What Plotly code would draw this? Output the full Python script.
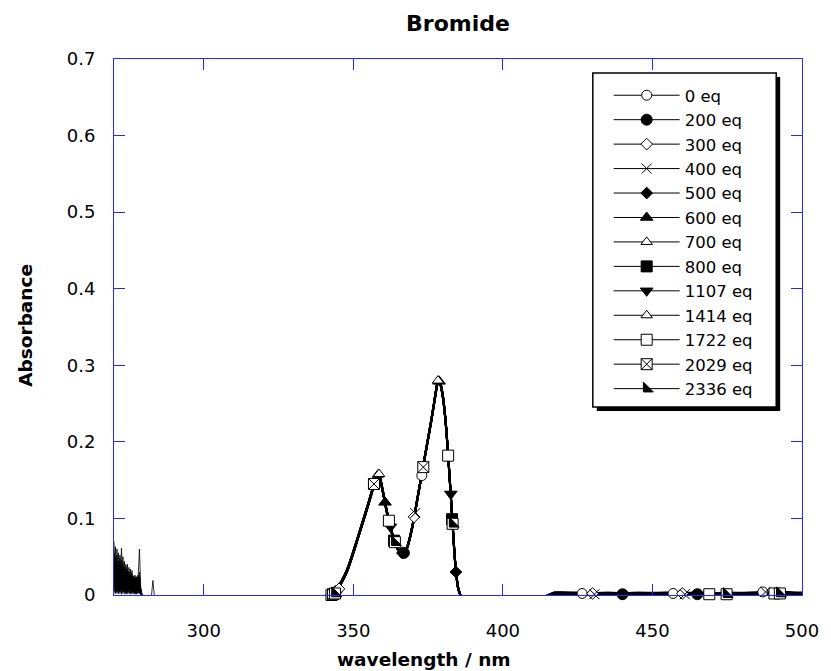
import plotly.graph_objects as go

# ---------------- data ----------------
SERIES = ["0 eq", "200 eq", "300 eq", "400 eq", "500 eq", "600 eq", "700 eq",
          "800 eq", "1107 eq", "1414 eq", "1722 eq", "2029 eq", "2336 eq"]

NOISE_WL = [270.0, 270.5, 271.0, 271.5, 272.0, 272.5, 273.0, 273.5, 274.0, 274.5,
            275.0, 275.5, 276.0, 276.5, 277.0, 277.5, 278.0, 278.5, 279.0, 279.5,
            280.0, 280.5, 282.5, 283.0, 283.5]

N_0 = [0.012, 0.063, 0.008, 0.030, 0.004, 0.022, 0.035, 0.006, 0.018, 0.002, 0.025, 0.010, 0.004, 0.015, 0.001, 0.020, 0.003, 0.010, 0.000, -0.002, -0.002, -0.002, -0.002, 0.019, -0.002]
N_200 = [0.030, 0.005, 0.041, 0.012, 0.028, 0.003, 0.020, 0.028, 0.001, 0.032, 0.006, 0.017, 0.024, 0.002, 0.012, 0.004, 0.015, 0.060, 0.003, -0.002, -0.002, -0.002, -0.002, -0.002, -0.002]
N_300 = [0.045, 0.020, 0.002, 0.055, 0.015, 0.038, 0.004, 0.026, 0.012, 0.040, 0.003, 0.022, 0.008, 0.025, 0.006, 0.002, 0.018, 0.012, 0.003, -0.002, -0.002, -0.002, -0.002, -0.002, -0.002]
N_400 = [0.008, 0.035, 0.018, 0.003, 0.048, 0.010, 0.030, 0.002, 0.036, 0.014, 0.020, 0.001, 0.028, 0.009, 0.018, 0.011, 0.002, 0.016, 0.005, -0.002, -0.002, -0.002, -0.002, -0.002, -0.002]
N_500 = [0.050, 0.002, 0.026, 0.040, 0.006, 0.061, 0.012, 0.034, 0.004, 0.022, 0.030, 0.003, 0.014, 0.020, 0.002, 0.024, 0.008, 0.004, 0.001, -0.002, -0.002, -0.002, -0.002, -0.002, -0.002]
N_600 = [0.002, 0.028, 0.052, 0.006, 0.024, 0.016, 0.042, 0.010, 0.028, 0.003, 0.015, 0.027, 0.006, 0.010, 0.022, 0.003, 0.012, 0.020, 0.002, -0.002, -0.002, -0.002, -0.002, -0.002, -0.002]
N_700 = [0.025, 0.040, 0.010, 0.020, 0.035, 0.001, 0.024, 0.044, 0.008, 0.020, 0.011, 0.034, 0.002, 0.018, 0.008, 0.016, 0.024, 0.002, 0.006, -0.002, -0.002, -0.002, -0.002, -0.002, -0.002]
N_800 = [0.070, 0.015, 0.030, 0.002, 0.020, 0.045, 0.006, 0.018, 0.030, 0.007, 0.036, 0.004, 0.020, 0.004, 0.026, 0.006, 0.010, 0.030, 0.001, -0.002, -0.002, -0.002, -0.002, -0.002, -0.002]
N_1107 = [0.018, 0.050, 0.004, 0.036, 0.012, 0.028, 0.050, 0.014, 0.002, 0.026, 0.018, 0.008, 0.032, 0.012, 0.003, 0.014, 0.020, 0.006, 0.003, -0.002, -0.002, -0.002, -0.002, -0.002, -0.002]
N_1414 = [0.036, 0.010, 0.060, 0.018, 0.002, 0.030, 0.014, 0.038, 0.020, 0.005, 0.028, 0.014, 0.002, 0.022, 0.016, 0.001, 0.008, 0.014, 0.002, -0.002, -0.002, -0.002, -0.002, -0.002, -0.002]
N_1722 = [0.004, 0.045, 0.022, 0.008, 0.040, 0.020, 0.002, 0.030, 0.016, 0.034, 0.002, 0.020, 0.016, 0.004, 0.024, 0.010, 0.003, 0.024, 0.004, -0.002, -0.002, -0.002, -0.002, -0.002, -0.002]
N_2029 = [0.055, 0.026, 0.006, 0.044, 0.030, 0.008, 0.026, 0.018, 0.040, 0.006, 0.024, 0.012, 0.026, 0.008, 0.002, 0.022, 0.012, 0.002, 0.008, -0.002, -0.002, -0.002, -0.002, -0.002, -0.002]
N_2336 = [0.020, 0.004, 0.034, 0.026, 0.052, 0.014, 0.030, 0.004, 0.024, 0.018, 0.008, 0.030, 0.010, 0.018, 0.012, 0.004, 0.026, 0.008, 0.002, -0.002, -0.002, -0.002, -0.002, -0.002, -0.002]

MAIN_WL = [284, 300, 320, 338, 340,
           342, 344, 346, 348, 350, 352, 354, 356,
           357, 358, 358.5, 359, 360, 361, 362, 363, 364, 365, 366, 367, 368, 369, 370,
           372, 374, 376, 377, 378, 378.5, 379, 380, 381, 382, 383, 384, 385, 386, 388,
           395, 405, 414, 417, 425, 435, 445, 455, 465, 475, 485, 495, 500]

A_0 = [-0.002, -0.002, -0.002, -0.002, -0.002,
       0.000, 0.005, 0.017, 0.033, 0.056, 0.081, 0.106, 0.132,
       0.146, 0.157, 0.158, 0.152, 0.133, 0.113, 0.095, 0.080, 0.068, 0.060, 0.055, 0.055, 0.062, 0.076, 0.094,
       0.138, 0.182, 0.226, 0.250, 0.274, 0.281, 0.277, 0.257, 0.220, 0.165, 0.105, 0.045, 0.010, -0.001, -0.003,
       -0.003, -0.003, -0.002, 0.002, 0.002, 0.002, 0.002, 0.003, 0.002, 0.002, 0.003, 0.002, 0.002]
A_200 = [-0.002, -0.002, -0.002, -0.002, -0.002,
         0.000, 0.004, 0.016, 0.032, 0.055, 0.080, 0.105, 0.131,
         0.145, 0.156, 0.157, 0.151, 0.132, 0.112, 0.094, 0.079, 0.067, 0.059, 0.054, 0.054, 0.061, 0.075, 0.093,
         0.137, 0.181, 0.225, 0.249, 0.273, 0.280, 0.276, 0.256, 0.219, 0.164, 0.104, 0.044, 0.009, -0.002, -0.003,
         -0.003, -0.003, -0.002, 0.001, 0.001, 0.001, 0.002, 0.001, 0.001, 0.002, 0.002, 0.001, 0.001]
A_300 = [-0.002, -0.002, -0.002, -0.002, -0.002,
         0.001, 0.006, 0.018, 0.034, 0.057, 0.082, 0.107, 0.133,
         0.147, 0.158, 0.159, 0.153, 0.134, 0.114, 0.096, 0.081, 0.069, 0.061, 0.056, 0.056, 0.063, 0.077, 0.096,
         0.140, 0.184, 0.228, 0.252, 0.276, 0.283, 0.279, 0.259, 0.222, 0.167, 0.107, 0.047, 0.011, -0.001, -0.003,
         -0.003, -0.003, -0.002, 0.003, 0.003, 0.002, 0.003, 0.003, 0.003, 0.002, 0.003, 0.004, 0.003]
A_400 = [-0.002, -0.002, -0.002, -0.002, -0.002,
         -0.001, 0.004, 0.015, 0.031, 0.054, 0.079, 0.104, 0.130,
         0.144, 0.155, 0.156, 0.150, 0.131, 0.111, 0.093, 0.078, 0.066, 0.058, 0.054, 0.055, 0.062, 0.077, 0.095,
         0.139, 0.183, 0.227, 0.251, 0.275, 0.282, 0.278, 0.258, 0.221, 0.166, 0.106, 0.046, 0.010, -0.001, -0.003,
         -0.003, -0.003, -0.002, 0.002, 0.001, 0.002, 0.001, 0.002, 0.001, 0.002, 0.003, 0.003, 0.002]
A_500 = [-0.002, -0.002, -0.002, -0.002, -0.002,
         0.000, 0.005, 0.016, 0.032, 0.055, 0.080, 0.106, 0.132,
         0.146, 0.156, 0.157, 0.151, 0.133, 0.113, 0.095, 0.080, 0.068, 0.059, 0.055, 0.055, 0.062, 0.076, 0.094,
         0.138, 0.182, 0.226, 0.250, 0.274, 0.281, 0.277, 0.257, 0.219, 0.163, 0.103, 0.043, 0.009, -0.001, -0.003,
         -0.003, -0.003, -0.002, 0.002, 0.002, 0.001, 0.002, 0.002, 0.001, 0.001, 0.002, 0.002, 0.001]
A_600 = [-0.002, -0.002, -0.002, -0.002, -0.002,
         0.001, 0.006, 0.017, 0.033, 0.056, 0.081, 0.107, 0.133,
         0.147, 0.158, 0.159, 0.152, 0.134, 0.114, 0.096, 0.081, 0.069, 0.060, 0.056, 0.056, 0.063, 0.077, 0.095,
         0.139, 0.183, 0.227, 0.251, 0.275, 0.282, 0.279, 0.259, 0.221, 0.166, 0.106, 0.046, 0.011, -0.001, -0.003,
         -0.003, -0.003, -0.002, 0.003, 0.002, 0.003, 0.002, 0.003, 0.002, 0.003, 0.003, 0.002, 0.003]
A_700 = [-0.002, -0.002, -0.002, -0.002, -0.002,
         0.000, 0.005, 0.017, 0.034, 0.057, 0.082, 0.107, 0.133,
         0.147, 0.157, 0.158, 0.152, 0.133, 0.113, 0.095, 0.080, 0.068, 0.060, 0.055, 0.055, 0.062, 0.076, 0.094,
         0.138, 0.182, 0.226, 0.250, 0.275, 0.282, 0.278, 0.258, 0.220, 0.165, 0.105, 0.045, 0.010, -0.001, -0.003,
         -0.003, -0.003, -0.002, 0.002, 0.003, 0.002, 0.002, 0.002, 0.003, 0.002, 0.002, 0.003, 0.002]
A_800 = [-0.002, -0.002, -0.002, -0.002, -0.002,
         -0.001, 0.004, 0.016, 0.032, 0.055, 0.080, 0.105, 0.131,
         0.145, 0.156, 0.157, 0.151, 0.132, 0.112, 0.094, 0.079, 0.067, 0.059, 0.055, 0.055, 0.061, 0.075, 0.093,
         0.137, 0.181, 0.225, 0.249, 0.273, 0.280, 0.276, 0.256, 0.219, 0.164, 0.104, 0.044, 0.009, -0.001, -0.003,
         -0.003, -0.003, -0.002, 0.001, 0.002, 0.002, 0.001, 0.002, 0.002, 0.001, 0.002, 0.002, 0.002]
A_1107 = [-0.002, -0.002, -0.002, -0.002, -0.002,
          0.000, 0.005, 0.017, 0.033, 0.056, 0.081, 0.106, 0.132,
          0.146, 0.157, 0.158, 0.152, 0.133, 0.113, 0.095, 0.080, 0.068, 0.060, 0.055, 0.056, 0.063, 0.077, 0.095,
          0.139, 0.183, 0.227, 0.251, 0.275, 0.282, 0.278, 0.258, 0.221, 0.166, 0.106, 0.046, 0.011, -0.001, -0.003,
          -0.003, -0.003, -0.002, 0.002, 0.002, 0.003, 0.002, 0.002, 0.002, 0.003, 0.002, 0.002, 0.002]
A_1414 = [-0.002, -0.002, -0.002, -0.002, -0.002,
          0.001, 0.006, 0.018, 0.034, 0.057, 0.082, 0.107, 0.133,
          0.147, 0.158, 0.159, 0.153, 0.134, 0.114, 0.096, 0.081, 0.068, 0.060, 0.055, 0.055, 0.062, 0.076, 0.094,
          0.138, 0.182, 0.226, 0.251, 0.275, 0.283, 0.279, 0.258, 0.220, 0.165, 0.105, 0.045, 0.010, -0.001, -0.003,
          -0.003, -0.003, -0.002, 0.003, 0.002, 0.002, 0.003, 0.002, 0.002, 0.002, 0.003, 0.003, 0.002]
A_1722 = [-0.002, -0.002, -0.002, -0.002, -0.002,
          0.000, 0.004, 0.016, 0.032, 0.055, 0.080, 0.105, 0.131,
          0.145, 0.156, 0.157, 0.151, 0.132, 0.112, 0.094, 0.079, 0.067, 0.059, 0.055, 0.055, 0.062, 0.076, 0.094,
          0.138, 0.182, 0.226, 0.250, 0.274, 0.281, 0.278, 0.258, 0.221, 0.166, 0.106, 0.046, 0.010, -0.001, -0.003,
          -0.003, -0.003, -0.002, 0.002, 0.002, 0.001, 0.002, 0.002, 0.002, 0.002, 0.002, 0.002, 0.003]
A_2029 = [-0.002, -0.002, -0.002, -0.002, -0.002,
          0.000, 0.005, 0.017, 0.033, 0.056, 0.081, 0.106, 0.132,
          0.146, 0.157, 0.158, 0.152, 0.133, 0.113, 0.095, 0.080, 0.068, 0.060, 0.055, 0.055, 0.062, 0.076, 0.094,
          0.139, 0.183, 0.227, 0.251, 0.275, 0.282, 0.278, 0.258, 0.220, 0.165, 0.105, 0.045, 0.010, -0.001, -0.003,
          -0.003, -0.003, -0.002, 0.002, 0.001, 0.002, 0.002, 0.001, 0.002, 0.002, 0.003, 0.002, 0.002]
A_2336 = [-0.002, -0.002, -0.002, -0.002, -0.002,
          0.000, 0.005, 0.016, 0.032, 0.055, 0.080, 0.105, 0.131,
          0.145, 0.156, 0.157, 0.151, 0.132, 0.113, 0.095, 0.080, 0.068, 0.060, 0.055, 0.055, 0.062, 0.076, 0.094,
          0.138, 0.182, 0.226, 0.250, 0.274, 0.281, 0.277, 0.257, 0.220, 0.165, 0.105, 0.045, 0.010, -0.001, -0.003,
          -0.003, -0.003, -0.002, 0.002, 0.002, 0.002, 0.001, 0.002, 0.002, 0.002, 0.002, 0.002, 0.002]

# marker points (wavelength, absorbance) for each series
MW_0, MA_0 = [344.6, 372.9, 426.5, 456.9, 486.9], [0.006, 0.156, 0.002, 0.002, 0.004]
MW_200, MA_200 = [366.9, 440.0, 465.0], [0.055, 0.001, 0.001]
MW_300, MA_300 = [345.2, 370.3, 430.0, 460.0], [0.008, 0.102, 0.002, 0.002]
MW_400, MA_400 = [370.7, 430.6, 460.8, 487.8], [0.107, 0.001, 0.001, 0.004]
MW_500, MA_500 = [366.4, 384.3], [0.055, 0.030]
MW_600, MA_600 = [360.6, 378.7], [0.121, 0.279]
MW_700, MA_700 = [358.2, 343.5], [0.157, 0.002]
MW_800, MA_800 = [363.6, 383.0], [0.071, 0.099]
MW_1107, MA_1107 = [362.4, 382.6], [0.089, 0.132]
MW_1414, MA_1414 = [378.3, 358.6], [0.280, 0.158]
MW_1722, MA_1722 = [342.7, 361.9, 381.7, 469.0, 490.8], [0.000, 0.097, 0.182, 0.001, 0.002]
MW_2029, MA_2029 = [343.2, 356.9, 373.4], [0.001, 0.145, 0.167]
MW_2336, MA_2336 = [343.9, 363.9, 383.2, 474.8, 492.6], [0.002, 0.069, 0.093, 0.001, 0.002]

NOISE = [N_0, N_200, N_300, N_400, N_500, N_600, N_700, N_800, N_1107, N_1414, N_1722, N_2029, N_2336]
MAIN = [A_0, A_200, A_300, A_400, A_500, A_600, A_700, A_800, A_1107, A_1414, A_1722, A_2029, A_2336]
MARK_WL = [MW_0, MW_200, MW_300, MW_400, MW_500, MW_600, MW_700, MW_800, MW_1107, MW_1414, MW_1722, MW_2029, MW_2336]
MARK_A = [MA_0, MA_200, MA_300, MA_400, MA_500, MA_600, MA_700, MA_800, MA_1107, MA_1414, MA_1722, MA_2029, MA_2336]

# ---------------- styles ----------------
SYMBOLS = ["circle", "circle", "diamond", "x-thin", "diamond", "triangle-up", "triangle-up",
           "square", "triangle-down", "triangle-up", "square", "square-x", "triangle-sw"]
FILLS = ["white", "black", "white", "black", "black", "black", "white",
         "black", "black", "white", "white", "white", "black"]
SIZES = [10, 11, 9, 10, 9, 11, 10, 11, 11, 10, 11, 11, 11]

BLUE = "rgb(40,40,255)"
FONT = "DejaVu Sans, Liberation Sans, Arial, sans-serif"
W, H = 831, 671
L, R, T, B = 114, 23, 59, 76
PW, PH = W - L - R, H - T - B


def px(xp):
    return (xp - L) / PW


def py(yp):
    return (H - B - yp) / PH


fig = go.Figure()

for i in range(len(SERIES)):
    fig.add_trace(go.Scatter(x=NOISE_WL, y=NOISE[i], mode="lines",
                             line=dict(color="black", width=0.8), showlegend=False,
                             hoverinfo="skip"))
    fig.add_trace(go.Scatter(x=MAIN_WL, y=MAIN[i], mode="lines",
                             line=dict(color="black", width=2, shape="spline", smoothing=0.7),
                             showlegend=False, hoverinfo="skip"))

for i in range(len(SERIES)):
    if SERIES[i] == "2336 eq":
        fig.add_trace(go.Scatter(x=MARK_WL[i], y=MARK_A[i], mode="markers",
                                 marker=dict(symbol="square", size=SIZES[i], color="white",
                                             line=dict(color="black", width=1)),
                                 showlegend=False, cliponaxis=False, hoverinfo="skip"))
    fig.add_trace(go.Scatter(x=MARK_WL[i], y=MARK_A[i], mode="markers",
                             marker=dict(symbol=SYMBOLS[i], size=SIZES[i], color=FILLS[i],
                                         line=dict(color="black", width=1)),
                             showlegend=False, cliponaxis=False, hoverinfo="skip"))

for i in range(len(SERIES)):
    fig.add_trace(go.Scatter(x=[None], y=[None], mode="lines+markers", name=SERIES[i],
                             line=dict(color="black", width=1),
                             marker=dict(symbol=SYMBOLS[i], size=SIZES[i], color=FILLS[i],
                                         line=dict(color="black", width=1))))

axis_common = dict(showline=True, linecolor=BLUE, linewidth=1, mirror="ticks",
                   ticks="inside", ticklen=11, tickwidth=1, tickcolor=BLUE,
                   showgrid=False, zeroline=False,
                   tickfont=dict(family=FONT, size=18, color="black"))

fig.update_layout(
    width=W, height=H,
    margin=dict(l=L, r=R, t=T, b=B),
    paper_bgcolor="white", plot_bgcolor="white",
    font=dict(family=FONT, color="black"),
    title=dict(text="<b>Bromide</b>", x=px(461), xref="paper", xanchor="center",
               y=1 - 23 / H, yref="container", yanchor="middle",
               font=dict(family=FONT, size=22, color="black")),
    xaxis=dict(range=[270, 500], tickmode="linear", tick0=300, dtick=50,
               ticklabelstandoff=19, **axis_common),
    yaxis=dict(range=[0, 0.7], tickmode="linear", tick0=0, dtick=0.1,
               ticklabelstandoff=14, **axis_common),
    legend=dict(x=px(613), y=py(78), xanchor="left", yanchor="top",
                bgcolor="rgba(0,0,0,0)", borderwidth=0, itemwidth=66,
                font=dict(family=FONT, size=16.5, color="black"), tracegroupgap=0),
    annotations=[
        dict(text="<b>wavelength / nm</b>", xref="paper", yref="paper",
             x=px(427), y=py(659), xanchor="center", yanchor="middle", showarrow=False,
             font=dict(family=FONT, size=18.5, color="black")),
        dict(text="<b>Absorbance</b>", xref="paper", yref="paper", textangle=-90,
             x=px(24), y=py(325), xanchor="center", yanchor="middle", showarrow=False,
             font=dict(family=FONT, size=18.5, color="black")),
    ],
    shapes=[
        dict(type="rect", xref="paper", yref="paper", x0=px(601), x1=px(786),
             y0=py(411), y1=py(77), fillcolor="black", line=dict(width=0), layer="above"),
        dict(type="rect", xref="paper", yref="paper", x0=px(597), x1=px(782),
             y0=py(407), y1=py(73), fillcolor="white", line=dict(color="black", width=1.5),
             layer="above"),
    ],
)

fig.write_html("out.html")
